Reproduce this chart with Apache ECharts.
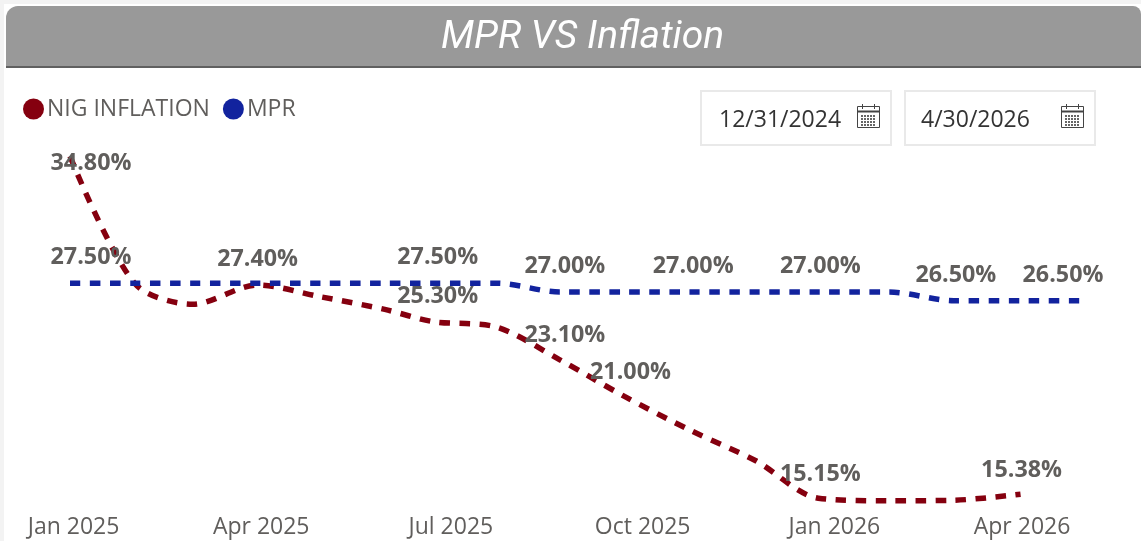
<!DOCTYPE html>
<html><head><meta charset="utf-8">
<style>html,body{margin:0;padding:0;background:#fff}#c{width:1141px;height:541px}</style>
<script src="https://cdn.jsdelivr.net/npm/echarts@6/dist/echarts.min.js"></script>
</head><body><div id="c"></div>
<script>
const chartTitle = 'MPR VS Inflation';
const dates = ['2024-12-31','2025-01-31','2025-02-28','2025-03-31','2025-04-30','2025-05-31','2025-06-23','2025-07-24','2025-08-23','2025-09-23','2025-10-25','2025-11-25','2025-12-25','2026-01-28','2026-02-28','2026-04-01','2026-04-30'];
const inflation = [34.80,27.50,26.30,27.40,26.73,26.00,25.30,24.97,23.10,21.00,19.03,17.30,15.15,15.00,15.03,15.38,null];
const mpr = [27.50,27.50,27.50,27.50,27.50,27.50,27.50,27.50,27.00,27.00,27.00,27.00,27.00,27.00,26.50,26.50,26.50];
const tickDates = ['2025-01-01','2025-04-01','2025-07-01','2025-10-01','2026-01-01','2026-04-01'];
const tickLabels = ['Jan 2025','Apr 2025','Jul 2025','Oct 2025','Jan 2026','Apr 2026'];
const dateFrom = '12/31/2024', dateTo = '4/30/2026';

const FONT = '"Open Sans"', GREY = '#605e5c', RED = '#85000f', BLUE = '#12239e';
const inflationLabels = {0:[21,33],3:[0,0],6:[5,0],8:[5,1],9:[6,1],12:[2,2],15:[1,2]};
const mprLabels = {0:[21,0],6:[5,0],8:[5,0],10:[2,0],12:[2,0],14:[2,0],16:[-18,0]};
const ms = d => Date.parse(d+'T00:00:00Z');
const tickMs = tickDates.map(ms);

function series(name,color,values,labelMap){
  return {name,type:'line',smooth:0.3,symbol:'circle',symbolSize:0,showSymbol:true,
    itemStyle:{color},
    lineStyle:{color,width:5.5,type:[10.5,9.5],cap:'butt'},
    label:{show:true,position:'top',distance:14,fontFamily:FONT,fontSize:23.3,fontWeight:'bold',color:GREY,
      formatter:p=>labelMap[p.dataIndex]?p.value[1].toFixed(2)+'%':''},
    labelLayout:p=>{const o=labelMap[p.dataIndex]||[0,0];return {dx:o[0],dy:o[1],hideOverlap:false};},
    emphasis:{disabled:true},
    data:values.map((v,i)=>[ms(dates[i]),v])};
}
function calendar(x,y){
  const els=[
    {type:'rect',shape:{x:x+.5,y:y+2.5,width:22,height:21},style:{stroke:'#444',fill:'none',lineWidth:1}},
    {type:'line',shape:{x1:x,y1:y+7.5,x2:x+23,y2:y+7.5},style:{stroke:'#444',lineWidth:2}},
    {type:'line',shape:{x1:x+5.5,y1:y,x2:x+5.5,y2:y+5},style:{stroke:'#444',lineWidth:1}},
    {type:'line',shape:{x1:x+17.5,y1:y,x2:x+17.5,y2:y+5},style:{stroke:'#444',lineWidth:1}}];
  for(let r=0;r<4;r++)for(let c=0;c<5;c++)
    els.push({type:'rect',shape:{x:x+4+c*3,y:y+11+r*3,width:2,height:2},style:{fill:'#666'}});
  return els;
}
function dateBox(x,text,textX,iconX){
  return [
    {type:'rect',shape:{x:x+1,y:91,width:190,height:54},style:{fill:'#fff',stroke:'#e9e9e9',lineWidth:2}},
    {type:'text',x:textX,y:120,style:{text,font:'23px '+FONT,fill:'#333',textVerticalAlign:'middle'}},
    ...calendar(iconX,104)];
}
const chart = echarts.init(document.getElementById('c'));
chart.setOption({
  animation:false,
  backgroundColor:'#fff',
  graphic:[
    {type:'rect',silent:true,shape:{x:0,y:0,width:1141,height:4},style:{fill:'#f3f3f3'}},
    {type:'rect',silent:true,shape:{x:0,y:0,width:4,height:541},style:{fill:'#f3f3f3'}},
    {type:'rect',silent:true,shape:{x:6,y:6,width:1135,height:61,r:[12,8,0,0]},style:{fill:'#999999'}},
    {type:'rect',silent:true,shape:{x:6,y:66,width:1135,height:2},style:{fill:'#606060'}},
    ...dateBox(700,dateFrom,719,857),
    ...dateBox(904,dateTo,921,1061)
  ],
  title:{text:chartTitle,left:441,top:19,padding:0,itemGap:0,
    textStyle:{fontFamily:'Roboto',fontStyle:'italic',fontWeight:400,fontSize:39,color:'#fff'}},
  legend:{left:23,top:97.5,padding:0,itemWidth:21,itemHeight:21,itemGap:13,icon:'circle',
    data:['NIG INFLATION','MPR'],selectedMode:false,
    textStyle:{fontFamily:FONT,fontSize:23,color:GREY,padding:[0,0,0,-2]}},
  grid:{left:70,width:1011,top:135.4,height:382.8},
  tooltip:{show:false},
  xAxis:{type:'value',scale:true,min:ms(dates[0]),max:ms(dates[dates.length-1]),
    axisLine:{show:false},axisTick:{show:false},splitLine:{show:false},
    axisLabel:{show:true,hideOverlap:false,
      customValues:tickMs,
      formatter:v=>{const i=tickMs.indexOf(+v);return i>=0?tickLabels[i]:'';},
      fontFamily:FONT,fontSize:23,color:GREY,margin:-2,verticalAlign:'top',padding:[0,0,0,3]}},
  yAxis:{type:'value',min:14,max:36,show:false},
  series:[series('NIG INFLATION',RED,inflation,inflationLabels),series('MPR',BLUE,mpr,mprLabels)]
});
</script></body></html>
